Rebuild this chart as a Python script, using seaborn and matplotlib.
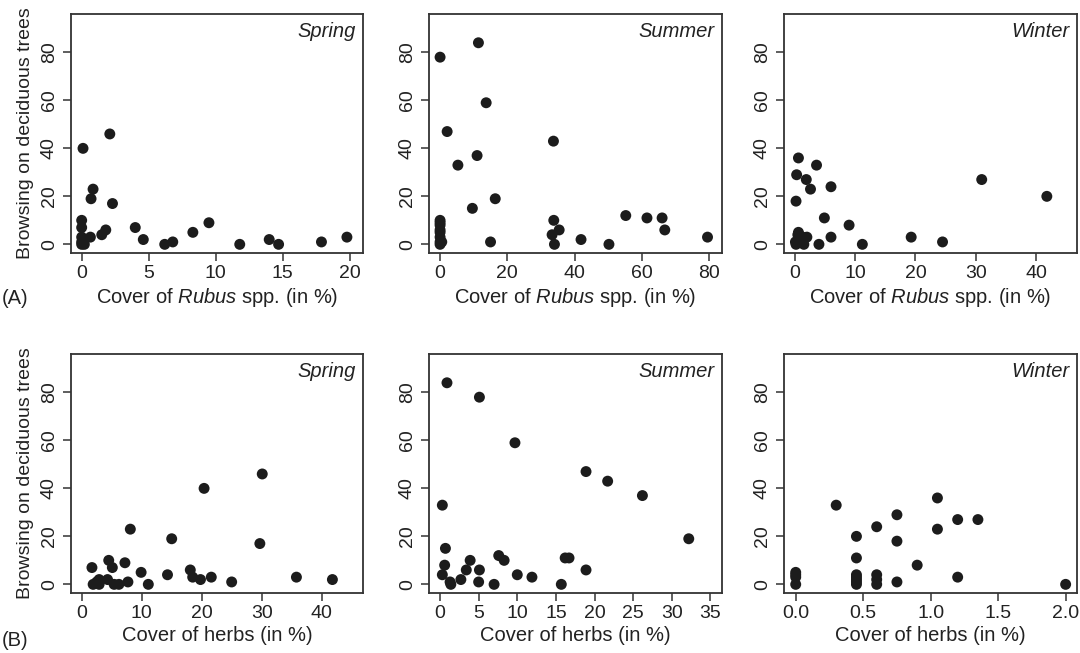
import matplotlib
matplotlib.use("Agg")
import matplotlib.pyplot as plt
import seaborn as sns
import pandas as pd

sns.set_style("ticks")
plt.rcParams['font.family'] = ['Liberation Sans', 'DejaVu Sans']
plt.rcParams['mathtext.fontset'] = 'custom'
plt.rcParams['mathtext.it'] = 'Liberation Sans:italic'
plt.rcParams['mathtext.rm'] = 'Liberation Sans'

# --- data --- #
# Spring, Rubus cover vs browsing
spring_rubus_x = [0.1, 2.1, 0.85, 0.7, 2.3, 0, 0, 0, 0, 0, 0.2, 0.2, 0.65, 1.5, 1.8,
                  4.0, 4.6, 6.2, 6.8, 8.3, 9.5, 11.8, 14.0, 14.7, 17.9, 19.8]
spring_rubus_y = [40, 46, 23, 19, 17, 10, 7, 3, 1, 0, 0, 2, 3, 4, 6,
                  7, 2, 0, 1, 5, 9, 0, 2, 0, 1, 3]

# Summer, Rubus cover vs browsing
summer_rubus_x = [0, 11.4, 13.7, 2.1, 33.7, 11.0, 5.3, 16.4, 9.6, 0, 0, 0, 0, 0, 0,
                  0, 0, 0.5, 15.0, 33.8, 33.3, 35.4, 34.0, 41.9, 50.2, 55.2, 61.5,
                  66.0, 66.8, 79.5]
summer_rubus_y = [78, 84, 59, 47, 43, 37, 33, 19, 15, 10, 9, 8, 6, 5, 3,
                  1, 0, 1, 1, 10, 4, 6, 0, 2, 0, 12, 11,
                  11, 6, 3]

# Winter, Rubus cover vs browsing
winter_rubus_x = [0.6, 3.6, 0.3, 1.9, 2.6, 6.0, 0.2, 4.9, 9.0, 6.0, 4.0, 11.2, 19.3,
                  24.5, 31.0, 41.8, 0.1, 0.5, 0.6, 1.0, 1.5, 2.0, 1.3, 0.2, 0.8]
winter_rubus_y = [36, 33, 29, 27, 23, 24, 18, 11, 8, 3, 0, 0, 3,
                  1, 27, 20, 1, 4, 5, 1, 0, 3, 3, 0, 2]

# Spring, herb cover vs browsing
spring_herbs_x = [30.1, 20.4, 8.1, 15.0, 29.7, 1.7, 4.5, 5.1, 7.2, 9.9, 14.3, 18.1,
                  18.5, 19.8, 21.6, 25.0, 35.8, 41.8, 11.1, 7.7, 1.9, 2.9, 2.9,
                  4.3, 5.4, 6.2, 2.5]
spring_herbs_y = [46, 40, 23, 19, 17, 7, 10, 7, 9, 5, 4, 6,
                  3, 2, 3, 1, 3, 2, 0, 1, 0, 2, 0,
                  2, 0, 0, 1]

# Summer, herb cover vs browsing
summer_herbs_x = [0.9, 5.1, 9.7, 18.9, 21.7, 26.2, 0.3, 32.2, 0.7, 0.6, 0.3, 1.3,
                  1.4, 2.7, 3.4, 3.9, 5.1, 5.0, 7.0, 7.6, 8.3, 10.0, 11.9, 15.7,
                  16.2, 16.7, 18.9]
summer_herbs_y = [84, 78, 59, 47, 43, 37, 33, 19, 15, 8, 4, 1,
                  0, 2, 6, 10, 6, 1, 0, 12, 10, 4, 3, 0,
                  11, 11, 6]

# Winter, herb cover vs browsing
winter_herbs_x = [0.3, 1.05, 0.75, 0.6, 1.2, 1.35, 1.05, 0.45, 0.75, 0.45, 0.9, 1.2,
                  0.75, 2.0, 0, 0, 0, 0, 0.45, 0.45, 0.45, 0.45, 0.45, 0.6, 0.6, 0.6]
winter_herbs_y = [33, 36, 29, 24, 27, 27, 23, 20, 18, 11, 8, 3,
                  1, 0, 5, 4, 3, 0, 4, 3, 2, 1, 0, 4, 2, 0]

y_ticks = [0, 20, 40, 60, 80]

panels = [
    # (x, y, season, x ticks, x limits, row, col)
    (spring_rubus_x, spring_rubus_y, "Spring", [0, 5, 10, 15, 20], (-0.8, 21.0), 0, 0),
    (summer_rubus_x, summer_rubus_y, "Summer", [0, 20, 40, 60, 80], (-3.3, 83.8), 0, 1),
    (winter_rubus_x, winter_rubus_y, "Winter", [0, 10, 20, 30, 40], (-1.8, 46.8), 0, 2),
    (spring_herbs_x, spring_herbs_y, "Spring", [0, 10, 20, 30, 40], (-1.8, 46.9), 1, 0),
    (summer_herbs_x, summer_herbs_y, "Summer", [0, 5, 10, 15, 20, 25, 30, 35], (-1.43, 36.5), 1, 1),
    (winter_herbs_x, winter_herbs_y, "Winter", [0.0, 0.5, 1.0, 1.5, 2.0], (-0.087, 2.084), 1, 2),
]

fig = plt.figure(figsize=(10.8, 6.53), dpi=100)

col_left = [0.0657, 0.3972, 0.7259]
col_width = [0.2704, 0.2713, 0.2713]
row_bottom = [0.6126, 0.0919]
row_height = 0.366

for x, y, season, xt, xl, r, c in panels:
    ax = fig.add_axes([col_left[c], row_bottom[r], col_width[c], row_height])
    df = pd.DataFrame({"x": x, "y": y})
    sns.scatterplot(data=df, x="x", y="y", ax=ax, color="#1c1c1c", s=62,
                    edgecolor="none", linewidth=0)
    ax.set_xlim(*xl)
    ax.set_ylim(-3.6, 96)
    ax.set_xticks(xt)
    if season == "Winter" and r == 1:
        ax.set_xticklabels([f"{v:.1f}" for v in xt])
    ax.set_yticks(y_ticks)
    ax.set_yticklabels([str(v) for v in y_ticks], rotation=90, va="center")
    ax.tick_params(axis="both", labelsize=14, length=5.5, width=1.1,
                   color="#333333", labelcolor="#222222")
    ax.tick_params(axis="x", pad=3)
    ax.tick_params(axis="y", pad=4)
    for sp in ax.spines.values():
        sp.set_visible(True)
        sp.set_color("#333333")
        sp.set_linewidth(1.3)
    ax.text(0.975, 0.965, season, transform=ax.transAxes, ha="right", va="top",
            fontsize=14.5, style="italic", color="#222222")
    ax.set_ylabel("")
    if r == 0:
        ax.set_xlabel("Cover of $\\mathit{Rubus}$ spp. (in %)", fontsize=14.5,
                      color="#222222", labelpad=3)
    else:
        ax.set_xlabel("Cover of herbs (in %)", fontsize=14.5, color="#222222",
                      labelpad=3)
    if c == 0:
        ax.set_ylabel("Browsing on deciduous trees", fontsize=14, color="#222222",
                      labelpad=5)

fig.text(0.002, 1 - 298 / 653, "(A)", fontsize=14.5, color="#222222", va="center")
fig.text(0.002, 1 - 641 / 653, "(B)", fontsize=14.5, color="#222222", va="center")

fig.savefig("out.png", dpi=100)
